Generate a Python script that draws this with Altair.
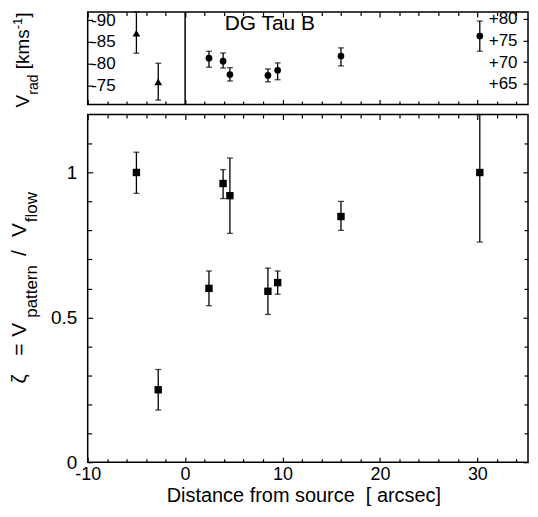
import altair as alt
import pandas as pd

# ---------------- data ----------------
# bottom panel: zeta = V_pattern / V_flow
dist_zeta = [-5.0, -2.76, 2.45, 3.9, 4.6, 8.5, 9.5, 16.0, 30.25]
zeta_val = [1.00, 0.25, 0.60, 0.962, 0.92, 0.59, 0.62, 0.848, 1.00]
zeta_lo = [0.928, 0.18, 0.54, 0.91, 0.79, 0.51, 0.58, 0.80, 0.76]
zeta_hi = [1.07, 0.32, 0.66, 1.01, 1.05, 0.67, 0.66, 0.90, 1.24]

# top panel: radial velocities, blue-shifted lobe (left axis)
dist_blue = [-5.0, -2.76]
vrad_blue = [-87.0, -75.8]
vrad_blue_e1 = [-92.1, -80.1]
vrad_blue_e2 = [-82.4, -71.6]

# top panel: red-shifted lobe (right axis)
dist_red = [2.45, 3.9, 4.6, 8.5, 9.5, 16.0, 30.25]
vrad_red = [70.9, 70.2, 67.1, 66.9, 68.1, 71.4, 76.0]
vrad_red_e1 = [72.5, 72.1, 68.7, 68.4, 69.8, 73.3, 79.5]
vrad_red_e2 = [68.8, 68.6, 65.6, 65.4, 65.9, 69.1, 72.5]

# tick values
x_major = [-10, 0, 10, 20, 30]
x_minor = [-8, -6, -4, -2, 2, 4, 6, 8, 12, 14, 16, 18, 22, 24, 26, 28, 32, 34]
zeta_major = [0, 0.5, 1]
zeta_minor = [0.1, 0.2, 0.3, 0.4, 0.6, 0.7, 0.8, 0.9, 1.1]
blue_ticks = [-90, -85, -80, -75]
red_ticks = [65, 70, 75, 80]

object_label = "DG Tau B"
x_title = "Distance from source\u00a0 [ arcsec]"

# ---------------- styling ----------------
FONT = "Liberation Sans"
W = 442
H_TOP = 93
H_BOT = 349
XS = alt.Scale(domain=[-10, 35.2], nice=False, zero=False)
ZS = alt.Scale(domain=[0, 1.2], nice=False, zero=False, clamp=True)
BS = alt.Scale(domain=[-91.9, -70.57], reverse=True, nice=False, zero=False, clamp=True)
RS = alt.Scale(domain=[60.14, 81.6], nice=False, zero=False, clamp=True)
NEG = "datum.value < 0 ? '-' + abs(datum.value) : '' + datum.value"


def tick_axis(orient, values, size):
    return alt.Axis(orient=orient, values=values, offset=-size, tickSize=size,
                    domain=False, grid=False, labels=False, title=None, minExtent=0)


def txt(text, x, y, size, angle=270, align="left"):
    return alt.Chart(alt.InlineData(values=[{}])).mark_text(
        text=text, x=x, y=y, angle=angle, align=align, baseline="alphabetic",
        fontSize=size, font=FONT, color="black")


# ---------------- bottom panel ----------------
zdf = pd.DataFrame({"d": dist_zeta, "z": zeta_val, "lo": zeta_lo, "hi": zeta_hi})

x_lab = alt.Axis(orient="bottom", values=x_major, offset=-5, tickSize=5, domain=False,
                 grid=False, labelExpr=NEG, labelFontSize=18, labelPadding=3,
                 labelFlush=False, labelOverlap=False, title=None, minExtent=0)
y_lab = alt.Axis(orient="left", values=zeta_major, offset=-5, tickSize=5, domain=False,
                 grid=False, labelExpr="'' + datum.value", labelFontSize=19,
                 labelPadding=11, labelFlush=False, labelOverlap=False, title=None,
                 minExtent=0)

b_rules = alt.Chart(zdf).mark_rule(color="black", strokeWidth=1.3).encode(
    x=alt.X("d:Q", scale=XS, axis=x_lab),
    y=alt.Y("lo:Q", scale=ZS, axis=y_lab),
    y2="hi:Q")
b_cap_lo = alt.Chart(zdf).mark_tick(orient="horizontal", size=6, thickness=1.3,
                                    color="black").encode(
    x=alt.X("d:Q", scale=XS, axis=tick_axis("bottom", x_minor, 3.5)),
    y=alt.Y("lo:Q", scale=ZS, axis=tick_axis("left", zeta_minor, 4)))
b_cap_hi = alt.Chart(zdf).mark_tick(orient="horizontal", size=6, thickness=1.3,
                                    color="black").encode(
    x=alt.X("d:Q", scale=XS, axis=tick_axis("top", x_major, 5)),
    y=alt.Y("hi:Q", scale=ZS, axis=tick_axis("right", zeta_major, 5)))
b_pts = alt.Chart(zdf).mark_point(shape="square", filled=True, size=55, color="black",
                                  opacity=1).encode(
    x=alt.X("d:Q", scale=XS, axis=tick_axis("top", x_minor, 3.5)),
    y=alt.Y("z:Q", scale=ZS, axis=tick_axis("right", zeta_minor, 4)))

bottom = alt.layer(
    b_rules, b_cap_lo, b_cap_hi, b_pts,
    txt("\u03b6", -62, 270, 21),
    txt("=", -62, 242, 21),
    txt("V", -62, 223, 21),
    txt("pattern", -51, 204, 17),
    txt("/", -62, 142, 21),
    txt("V", -62, 123, 21),
    txt("flow", -51, 108, 17),
    txt(x_title, 217, 388.5, 20, angle=0, align="center"),
).resolve_axis(x="independent", y="independent").properties(width=W, height=H_BOT)

# ---------------- top panel ----------------
bdf = pd.DataFrame({"d": dist_blue, "v": vrad_blue, "e1": vrad_blue_e1, "e2": vrad_blue_e2})
rdf = pd.DataFrame({"d": dist_red, "v": vrad_red, "e1": vrad_red_e1, "e2": vrad_red_e2})

yl_axis = alt.Axis(orient="left", values=blue_ticks, offset=-5, tickSize=5, domain=False,
                   grid=False, labelExpr="'-' + abs(datum.value)", labelFontSize=17,
                   labelAlign="left", labelPadding=-3, labelFlush=False,
                   labelOverlap=False, title=None, minExtent=0)
yr_axis = alt.Axis(orient="right", values=red_ticks, offset=-5, tickSize=5, domain=False,
                   grid=False, labelExpr="'+' + datum.value", labelFontSize=17,
                   labelAlign="right", labelPadding=-11, labelFlush=False,
                   labelOverlap=False, title=None, minExtent=0)

t_b_rule = alt.Chart(bdf).mark_rule(color="black", strokeWidth=1.3).encode(
    x=alt.X("d:Q", scale=XS, axis=tick_axis("bottom", x_major, 5)),
    y=alt.Y("e1:Q", scale=BS, axis=yl_axis), y2="e2:Q")
t_b_cap1 = alt.Chart(bdf).mark_tick(orient="horizontal", size=6, thickness=1.3,
                                    color="black").encode(
    x=alt.X("d:Q", scale=XS, axis=tick_axis("bottom", x_minor, 3.5)),
    y=alt.Y("e1:Q", scale=BS, axis=None))
t_b_cap2 = alt.Chart(bdf).mark_tick(orient="horizontal", size=6, thickness=1.3,
                                    color="black").encode(
    x=alt.X("d:Q", scale=XS, axis=tick_axis("top", x_major, 5)),
    y=alt.Y("e2:Q", scale=BS, axis=None))
t_b_pt = alt.Chart(bdf).mark_point(shape="triangle-up", filled=True, size=60,
                                   color="black", opacity=1).encode(
    x=alt.X("d:Q", scale=XS, axis=tick_axis("top", x_minor, 3.5)),
    y=alt.Y("v:Q", scale=BS, axis=None))

t_r_rule = alt.Chart(rdf).mark_rule(color="black", strokeWidth=1.3).encode(
    x=alt.X("d:Q", scale=XS, axis=None),
    y=alt.Y("e1:Q", scale=RS, axis=yr_axis), y2="e2:Q")
t_r_cap1 = alt.Chart(rdf).mark_tick(orient="horizontal", size=6, thickness=1.3,
                                    color="black").encode(
    x=alt.X("d:Q", scale=XS, axis=None), y=alt.Y("e1:Q", scale=RS, axis=None))
t_r_cap2 = alt.Chart(rdf).mark_tick(orient="horizontal", size=6, thickness=1.3,
                                    color="black").encode(
    x=alt.X("d:Q", scale=XS, axis=None), y=alt.Y("e2:Q", scale=RS, axis=None))
t_r_pt = alt.Chart(rdf).mark_point(shape="circle", filled=True, size=45, color="black",
                                   opacity=1).encode(
    x=alt.X("d:Q", scale=XS, axis=None), y=alt.Y("v:Q", scale=RS, axis=None))

zero_line = alt.Chart(alt.InlineData(values=[{}])).mark_rule(
    color="black", strokeWidth=1.5).encode(x=alt.X(datum=0, type="quantitative",
                                                   scale=XS, axis=None))
name_text = alt.Chart(alt.InlineData(values=[{}])).mark_text(
    text=object_label, fontSize=21, font=FONT, color="black", baseline="middle",
    align="center", y=12.5).encode(x=alt.X(datum=8.7, type="quantitative", scale=XS,
                                           axis=None))

top = alt.layer(
    t_b_rule, t_b_cap1, t_b_cap2, t_b_pt,
    t_r_rule, t_r_cap1, t_r_cap2, t_r_pt,
    zero_line, name_text,
    txt("V", -59, 96, 19),
    txt("rad", -50, 83, 14),
    txt("[kms", -59, 57.5, 19),
    txt("-1", -66, 17.4, 13),
    txt("]", -59, 5.8, 19),
).resolve_scale(y="independent").resolve_axis(x="independent", y="independent").properties(
    width=W, height=H_TOP)

chart = alt.vconcat(top, bottom, spacing=10, bounds="flush", padding=0).configure_view(
    stroke="black", strokeWidth=1.5
).configure_axis(
    labelFont=FONT, titleFont=FONT, labelColor="black", titleColor="black",
    tickColor="black", tickWidth=1.2
)

chart.save("out.html", embed_options={"renderer": "svg", "actions": False})
